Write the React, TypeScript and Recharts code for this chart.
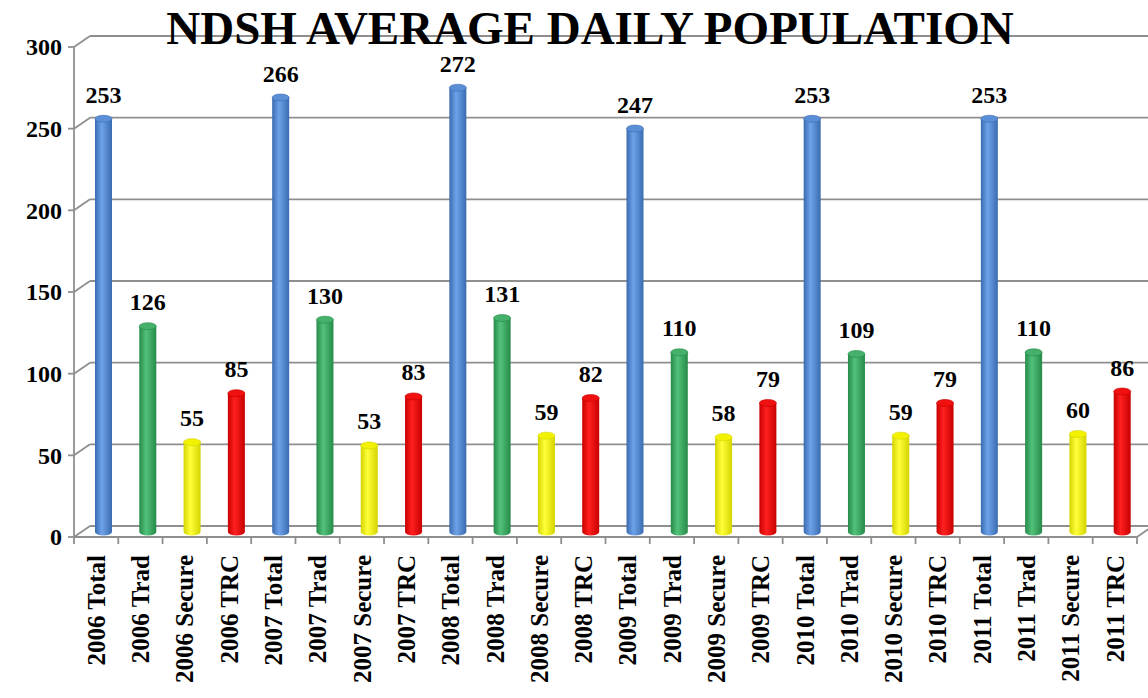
import { BarChart, Bar, XAxis, YAxis, CartesianGrid, LabelList, Customized } from 'recharts';

const YEARS = ['2006', '2007', '2008', '2009', '2010', '2011'];
const KINDS = ['Total', 'Trad', 'Secure', 'TRC'];
const TOTAL = [253, 266, 272, 247, 253, 253];
const TRAD = [126, 130, 131, 110, 109, 110];
const SECURE = [55, 53, 59, 58, 59, 60];
const TRC = [85, 83, 82, 79, 79, 86];
const Y_TICKS = [0, 50, 100, 150, 200, 250, 300];

const SERIES: Record<string, number[]> = { Total: TOTAL, Trad: TRAD, Secure: SECURE, TRC: TRC };

const data = YEARS.flatMap((year, i) =>
  KINDS.map((kind) => ({ name: `${year} ${kind}`, kind, value: SERIES[kind][i] }))
);

// layout of the pseudo-3D frame
const W = 1148;
const H = 698;
const LEFT = 74;
const TOP = 47;
const RIGHT = 1137;
const BOTTOM = 537;
const DX = 16; // depth offset of back wall
const DY = -11;
const BAR_DX = 7; // bars sit halfway into the depth
const BAR_DY = -5;
const FONT = '"Liberation Serif", "Times New Roman", serif';
const GRID = '#8f8f8f';

const COLORS: Record<string, { edge: string; mid: string; top: string }> = {
  Total: { edge: '#3a6bb0', mid: '#6ea2e8', top: '#5a8fd8' },
  Trad: { edge: '#268a48', mid: '#52c27a', top: '#44b06a' },
  Secure: { edge: '#d4d400', mid: '#ffff3a', top: '#f2f200' },
  TRC: { edge: '#c80000', mid: '#ff2020', top: '#f01010' },
};

const Cylinder = (props: any) => {
  const { x, y, width, height, payload } = props;
  if (!height || height <= 0) return null;
  const k = payload.kind;
  const bx = x + BAR_DX;
  const by = y + BAR_DY;
  const rx = width / 2;
  const ry = 3.5;
  return (
    <g>
      <path
        d={`M${bx},${by} L${bx},${by + height} A${rx},${ry} 0 0 0 ${bx + width},${by + height} L${bx + width},${by} Z`}
        fill={`url(#body-${k})`}
      />
      <ellipse cx={bx + rx} cy={by} rx={rx} ry={ry} fill={COLORS[k].top} stroke={COLORS[k].edge} strokeWidth={0.6} />
    </g>
  );
};

const ValueLabel = (props: any) => {
  const { x, y, width, value } = props;
  return (
    <text
      x={x + width / 2 + BAR_DX}
      y={y + BAR_DY - 16}
      textAnchor="middle"
      fontFamily={FONT}
      fontWeight="bold"
      fontSize={24}
      fill="#000"
    >
      {value}
    </text>
  );
};

const GridLine = (props: any) => {
  const { x1, x2, y1 } = props;
  return (
    <g key={props.key}>
      <line x1={x1} y1={y1} x2={x1 + DX} y2={y1 + DY} stroke={GRID} strokeWidth={1.8} />
      <line x1={x1 + DX} y1={y1 + DY} x2={x2 + DX} y2={y1 + DY} stroke={GRID} strokeWidth={1.8} />
    </g>
  );
};

const YTick = (props: any) => {
  const { x, y, payload } = props;
  return (
    <g>
      <line x1={x - 6} y1={y} x2={x} y2={y} stroke={GRID} strokeWidth={1.8} />
      <text
        x={x - 12}
        y={y}
        dy="0.35em"
        textAnchor="end"
        fontFamily={FONT}
        fontWeight="bold"
        fontSize={24}
        fill="#000"
      >
        {payload.value}
      </text>
    </g>
  );
};

const XTick = (props: any) => {
  const { x, y, payload, index } = props;
  const band = (RIGHT - LEFT) / data.length;
  return (
    <g>
      <line x1={x - band / 2} y1={y} x2={x - band / 2} y2={y + 7} stroke={GRID} strokeWidth={1.8} />
      {index === data.length - 1 && (
        <line x1={x + band / 2} y1={y} x2={x + band / 2} y2={y + 7} stroke={GRID} strokeWidth={1.8} />
      )}
      <text
        transform={`translate(${x}, ${y + 18}) rotate(-90)`}
        dy="0.35em"
        textAnchor="end"
        fontFamily={FONT}
        fontWeight="bold"
        fontSize={25}
        fill="#000"
      >
        {payload.value}
      </text>
    </g>
  );
};

const Frame = () => (
  <line x1={RIGHT} y1={BOTTOM} x2={RIGHT + DX} y2={BOTTOM + DY} stroke={GRID} strokeWidth={1.8} />
);

export default function App() {
  return (
    <div style={{ position: 'absolute', left: 0, top: 0, width: W, height: H, background: '#fff' }}>
      <BarChart
        width={W}
        height={H}
        data={data}
        margin={{ top: TOP, right: W - RIGHT, bottom: 0, left: 0 }}
      >
        <defs>
          {KINDS.map((k) => (
            <linearGradient key={k} id={`body-${k}`} x1="0" y1="0" x2="1" y2="0">
              <stop offset="0%" stopColor={COLORS[k].edge} />
              <stop offset="40%" stopColor={COLORS[k].mid} />
              <stop offset="100%" stopColor={COLORS[k].edge} />
            </linearGradient>
          ))}
        </defs>
        <CartesianGrid vertical={false} horizontal={GridLine} />
        <XAxis
          dataKey="name"
          interval={0}
          height={H - BOTTOM}
          tickSize={0}
          tickMargin={0}
          tickLine={false}
          axisLine={{ stroke: GRID, strokeWidth: 1.8 }}
          tick={XTick}
        />
        <YAxis
          width={LEFT}
          domain={[0, 300]}
          ticks={Y_TICKS}
          interval={0}
          tickSize={0}
          tickMargin={0}
          tickLine={false}
          axisLine={{ stroke: GRID, strokeWidth: 1.8 }}
          tick={YTick}
        />
        <Bar dataKey="value" barSize={17} shape={Cylinder} isAnimationActive={false}>
          <LabelList dataKey="value" content={ValueLabel} />
        </Bar>
        <Customized component={Frame} />
      </BarChart>
      <svg
        width={W}
        height={H}
        style={{ position: 'absolute', left: 0, top: 0, pointerEvents: 'none' }}
      >
        <text x={590} y={44} textAnchor="middle" fontFamily={FONT} fontWeight="bold" fontSize={47} fill="#000">
          NDSH AVERAGE DAILY POPULATION
        </text>
      </svg>
    </div>
  );
}
